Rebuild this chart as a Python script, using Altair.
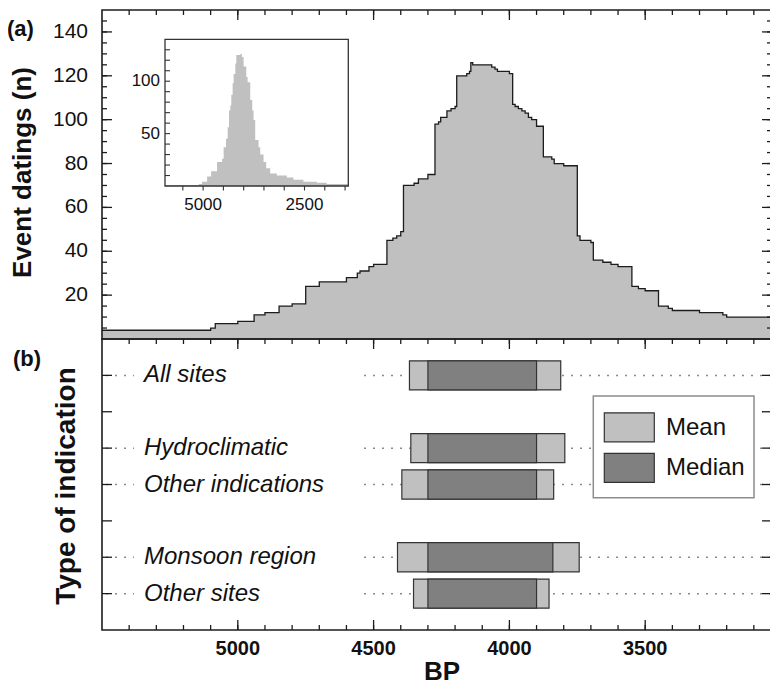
import altair as alt
import pandas as pd

# ---------------- data ----------------
# main histogram: left (older) edge of each step and the count of that step
main_edges = [5500, 5200, 5100, 5083, 5000, 4940, 4900, 4848, 4800, 4750, 4700,
              4600, 4560, 4550, 4517, 4500, 4451, 4429, 4415, 4400, 4390, 4351,
              4335, 4300, 4274, 4261, 4253, 4230, 4215, 4200, 4194, 4157, 4147,
              4142, 4135, 4065, 4053, 4044, 4000, 3988, 3979, 3967, 3954, 3942,
              3930, 3918, 3900, 3875, 3844, 3835, 3800, 3750, 3740, 3700, 3691,
              3656, 3626, 3600, 3549, 3525, 3500, 3451, 3415, 3400, 3300, 3214,
              3200]
main_end = 3000
main_counts = [4, 5, 7, 8, 11, 12, 15, 16, 24, 26, 28,
               30, 31, 33, 34, 45, 46, 47, 49, 70, 71, 73,
               75, 98, 99, 101, 104, 105, 106, 120, 121, 122, 126,
               125, 124, 123, 122, 121, 107, 106, 105, 104, 103, 101,
               100, 97, 83, 82, 80, 79, 47, 45, 44, 36, 35,
               34, 33, 24, 23, 22, 15, 14, 13, 12, 11, 10,
               9]

# inset histogram (full range)
inset_edges = [5940, 5516, 5108, 5025, 4902, 4803, 4656, 4533, 4494, 4436,
               4395, 4362, 4329, 4305, 4272, 4248, 4206, 4182, 4084, 4043,
               4002, 3936, 3903, 3838, 3789, 3756, 3715, 3633, 3592, 3510,
               3445, 3346, 3182, 2936, 2773, 2527, 2199, 1953]
inset_end = 1420
inset_counts = [1, 2, 4, 9, 14, 23, 26, 37, 45, 56,
                72, 77, 87, 98, 107, 117, 125, 126, 123, 114,
                104, 99, 82, 72, 63, 44, 37, 30, 23, 17,
                12, 10, 8, 6, 4, 3, 2, 1]
inset_y_domain = [0, 140]

# panel (b)
categories = ["All sites", "Hydroclimatic", "Other indications", "Monsoon region", "Other sites"]
cat_positions = [1, 3, 4, 6, 7]
mean_start = [4368, 4363, 4396, 4412, 4353]
mean_end = [3811, 3796, 3837, 3743, 3854]
median_start = [4300, 4300, 4300, 4300, 4300]
median_end = [3900, 3900, 3900, 3840, 3900]
legend_labels = ["Mean", "Median"]

# ticks
x_domain = [5500, 3000]
x_major = [5000, 4500, 4000, 3500]
x_minor = list(range(3100, 5500, 100))
y_domain = [0, 150]
y_major = [20, 40, 60, 80, 100, 120, 140]
y_minor = list(range(5, 150, 5))
b_domain = [0, 8]
b_ticks = [1, 2, 3, 4, 5, 6, 7]
inset_x_ticks = [5500, 5000, 4500, 4000, 3500, 3000, 2500, 2000, 1500]
inset_x_labels = [5000, 2500]
inset_y_ticks = list(range(10, 140, 10))
inset_y_labels = [50, 100]

# ---------------- geometry / style ----------------
PW = 679            # full plot width (runs past the right edge of the picture)
VW = 668            # visible part of the plot width
H1, H2 = 329, 291   # panel heights
HT = H1 + H2
INK = "#1c1c1c"
LIGHT = "#c0c0c0"
DARK = "#808080"
TXT = "#111111"


def step_frame(edges, end, counts):
    bounds = edges + [end]
    years = bounds[1:] + [bounds[0]]
    vals = counts + [counts[0]]
    return pd.DataFrame({"year": years, "n": vals})


main_df = step_frame(main_edges, main_end, main_counts)
inset_df = step_frame(inset_edges, inset_end, inset_counts)
one = pd.DataFrame({"a": [0]})

xs_main = alt.Scale(domain=x_domain, range=[0, PW])
ys_main = alt.Scale(domain=y_domain, range=[H1, 0])
xs_in = alt.Scale(domain=[inset_edges[0], inset_end], range=[63, 246.3])
ys_in = alt.Scale(domain=inset_y_domain, range=[176, 29.3])
xs_b = alt.Scale(domain=x_domain, range=[0, PW])
ys_b = alt.Scale(domain=b_domain, range=[H1, HT])


def ticks_x(values, scale, y0, y1, color=INK, sw=1.3):
    return alt.Chart(pd.DataFrame({"t": values})).mark_rule(color=color, strokeWidth=sw).encode(
        x=alt.X("t:Q", scale=scale, axis=None), y=alt.value(y0), y2=alt.value(y1))


def ticks_y(values, scale, x0, x1, color=INK, sw=1.3):
    return alt.Chart(pd.DataFrame({"t": values})).mark_rule(color=color, strokeWidth=sw).encode(
        y=alt.Y("t:Q", scale=scale, axis=None), x=alt.value(x0), x2=alt.value(x1))


def frame(y0, y1):
    return alt.Chart(one).mark_rect(fill="transparent", stroke=INK, strokeWidth=1.6).encode(
        x=alt.value(0), x2=alt.value(PW), y=alt.value(y0), y2=alt.value(y1))


def label(text, x, y, size, weight="normal", align="center", angle=0, style="normal"):
    return alt.Chart(one).mark_text(
        text=text, fontSize=size, fontWeight=weight, align=align, baseline="middle",
        angle=angle, fontStyle=style, color=TXT).encode(x=alt.value(x), y=alt.value(y))


# ---------------- panel (a) ----------------
area_main = alt.Chart(main_df).mark_area(interpolate="step-after", color=LIGHT).encode(
    x=alt.X("year:Q", scale=xs_main, axis=None),
    y=alt.Y("n:Q", scale=ys_main, axis=None, stack=False),
)
line_main = alt.Chart(main_df).mark_line(interpolate="step-after", color=INK, strokeWidth=1.3).encode(
    x=alt.X("year:Q", scale=xs_main, axis=None),
    y=alt.Y("n:Q", scale=ys_main, axis=None),
)
ylab_main = alt.Chart(pd.DataFrame({"t": y_major})).mark_text(
    fontSize=21, align="right", baseline="middle", color=TXT).encode(
    y=alt.Y("t:Q", scale=ys_main, axis=None), x=alt.value(-14), text=alt.Text("t:Q", format="d"))

main_group = alt.layer(
    area_main, line_main,
    ticks_x(x_minor, xs_main, 0, 5), ticks_x(x_major, xs_main, 0, 10),
    ticks_y(y_minor, ys_main, 0, 5), ticks_y(y_major, ys_main, 0, 10),
    ticks_y(y_minor, ys_main, VW, VW - 3), ticks_y(y_major, ys_main, VW, VW - 8),
    frame(0, H1), ylab_main,
    label("(a)", -95, 19, 22, "bold", "left"),
    label("Event datings (n)", -79.5, 162.5, 26, "bold", "center", 270),
)

# inset
inset_box = pd.DataFrame({"x0": [inset_edges[0]], "x1": [inset_end],
                          "y0": [inset_y_domain[0]], "y1": [inset_y_domain[1]]})
inset_bg = alt.Chart(inset_box).mark_rect(fill="white").encode(
    x=alt.X("x0:Q", scale=xs_in, axis=None), x2="x1:Q",
    y=alt.Y("y0:Q", scale=ys_in, axis=None), y2="y1:Q")
inset_area = alt.Chart(inset_df).mark_area(interpolate="step-after", color=LIGHT).encode(
    x=alt.X("year:Q", scale=xs_in, axis=None),
    y=alt.Y("n:Q", scale=ys_in, axis=None, stack=False))
inset_frame = alt.Chart(inset_box).mark_rect(fill="transparent", stroke="#333", strokeWidth=1.3).encode(
    x=alt.X("x0:Q", scale=xs_in, axis=None), x2="x1:Q",
    y=alt.Y("y0:Q", scale=ys_in, axis=None), y2="y1:Q")
inset_xlab = alt.Chart(pd.DataFrame({"t": inset_x_labels})).mark_text(
    fontSize=17, baseline="middle", color=TXT).encode(
    x=alt.X("t:Q", scale=xs_in, axis=None), y=alt.value(195), text=alt.Text("t:Q", format="d"))
inset_ylab = alt.Chart(pd.DataFrame({"t": inset_y_labels})).mark_text(
    fontSize=17, baseline="middle", align="right", color=TXT).encode(
    y=alt.Y("t:Q", scale=ys_in, axis=None), x=alt.value(58), text=alt.Text("t:Q", format="d"))

inset_group = alt.layer(
    inset_bg, inset_area,
    ticks_x(inset_x_ticks, xs_in, 176, 180.5, "#333", 1.1),
    ticks_y(inset_y_ticks, ys_in, 63, 68, "#333", 1.1),
    inset_frame, inset_xlab, inset_ylab,
)

# ---------------- panel (b) ----------------
box_df = pd.DataFrame({"cat": categories, "pos": cat_positions,
                       "ms": mean_start, "me": mean_end,
                       "ds": median_start, "de": median_end})

dots_left = alt.Chart(box_df).mark_rule(strokeDash=[2, 7], color="#8a8a8a", strokeWidth=1.5).encode(
    y=alt.Y("pos:Q", scale=ys_b, axis=None), x=alt.value(4), x2=alt.value(32))
dots_right = alt.Chart(box_df).mark_rule(strokeDash=[2, 7], color="#8a8a8a", strokeWidth=1.5).encode(
    y=alt.Y("pos:Q", scale=ys_b, axis=None), x=alt.value(262), x2=alt.value(PW))

mean_rect = alt.Chart(box_df).transform_calculate(
    lo="datum.pos - 0.4", hi="datum.pos + 0.4"
).mark_rect(fill=LIGHT, stroke="#333", strokeWidth=1.2).encode(
    x=alt.X("ms:Q", scale=xs_b, axis=None), x2="me:Q",
    y=alt.Y("lo:Q", scale=ys_b, axis=None), y2="hi:Q",
)
median_rect = alt.Chart(box_df).transform_calculate(
    lo="datum.pos - 0.4", hi="datum.pos + 0.4"
).mark_rect(fill=DARK, stroke="#333", strokeWidth=1.2).encode(
    x=alt.X("ds:Q", scale=xs_b, axis=None), x2="de:Q",
    y=alt.Y("lo:Q", scale=ys_b, axis=None), y2="hi:Q",
)

cat_text = alt.Chart(box_df).mark_text(
    align="left", baseline="middle", fontSize=24, fontStyle="italic", color=TXT).encode(
    y=alt.Y("pos:Q", scale=ys_b, axis=None), x=alt.value(42), text="cat:N")

xlab_b = alt.Chart(pd.DataFrame({"t": x_major})).mark_text(
    fontSize=20, fontWeight="bold", baseline="middle", color=TXT).encode(
    x=alt.X("t:Q", scale=xs_b, axis=None), y=alt.value(HT + 19), text=alt.Text("t:Q", format="d"))

legend_layers = [
    alt.Chart(one).mark_rect(fill="white", stroke="#8c8c8c", strokeWidth=1.5).encode(
        x=alt.value(491.3), x2=alt.value(652), y=alt.value(H1 + 57), y2=alt.value(H1 + 158.8))
]
for i, lab in enumerate(legend_labels):
    fill = LIGHT if i == 0 else DARK
    legend_layers.append(
        alt.Chart(one).mark_rect(fill=fill, stroke="#333", strokeWidth=1.2).encode(
            x=alt.value(502.3), x2=alt.value(552.3),
            y=alt.value(H1 + 73.8 + 40.6 * i), y2=alt.value(H1 + 102.8 + 40.6 * i)))
    legend_layers.append(label(lab, 564, H1 + 88.8 + 40.6 * i, 24, "normal", "left"))

bottom_group = alt.layer(
    dots_left, dots_right, mean_rect, median_rect, cat_text,
    ticks_y(b_ticks, ys_b, 0, 10), ticks_y(b_ticks, ys_b, VW, VW - 8),
    ticks_x(x_minor, xs_b, H1, H1 + 5), ticks_x(x_major, xs_b, H1, H1 + 10),
    ticks_x(x_minor, xs_b, HT, HT - 5), ticks_x(x_major, xs_b, HT, HT - 10),
    *legend_layers,
    frame(H1, HT), xlab_b,
    label("(b)", -89, H1 + 20, 22, "bold", "left"),
    label("Type of indication", -35.5, H1 + 147, 28, "bold", "center", 270),
    label("BP", 340, HT + 42, 26, "bold", "center"),
)

chart = alt.layer(main_group, inset_group, bottom_group).resolve_scale(
    x="independent", y="independent"
).properties(
    width=VW, height=HT,
    autosize=alt.AutoSizeParams(type="none"),
    padding={"left": 94, "top": 2, "right": 0, "bottom": 56},
).configure(
    font="Liberation Sans"
).configure_view(
    stroke="transparent"
)

chart.save("out.html", embed_options={"renderer": "svg", "actions": False})
